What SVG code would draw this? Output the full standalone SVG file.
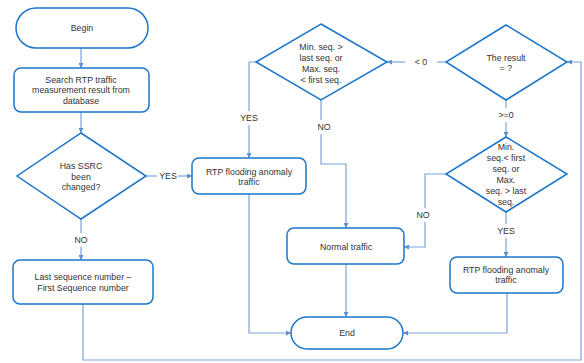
<svg xmlns="http://www.w3.org/2000/svg" width="584" height="363" viewBox="0 0 584 363">
<style>
.n{fill:#fff;stroke:#1b75c9;stroke-width:1.5}
.c{fill:none;stroke:#7aa3d8;stroke-width:1.2}
text{font-family:"Liberation Sans",Arial,sans-serif;font-size:8.8px;fill:#333;text-anchor:middle;dominant-baseline:central}
</style>
<defs>
<marker id="a" viewBox="0 0 6 6" refX="6" refY="3" markerWidth="5" markerHeight="5" orient="auto" markerUnits="userSpaceOnUse">
<path d="M0,0 L6,3 L0,6 z" fill="#5b8fd0"/>
</marker>
</defs>
<rect width="584" height="363" fill="#fff"/>
<g id="connectors">
<path class="c" d="M81,48 V68" marker-end="url(#a)"/>
<path class="c" d="M81,112 V133" marker-end="url(#a)"/>
<path class="c" d="M146,176 H157"/>
<path class="c" d="M178,176 H192" marker-end="url(#a)"/>
<path class="c" d="M81,219 V233"/>
<path class="c" d="M81,247 V260" marker-end="url(#a)"/>
<path class="c" d="M83,304 V360 H581 V62 H567" marker-end="url(#a)"/>
<path class="c" d="M446,62 H437"/>
<path class="c" d="M405,62 H387" marker-end="url(#a)"/>
<path class="c" d="M256,62 H249 V111"/>
<path class="c" d="M249,125 V158" marker-end="url(#a)"/>
<path class="c" d="M321,100 V120"/>
<path class="c" d="M321,134 V164 H346 V228" marker-end="url(#a)"/>
<path class="c" d="M506,100 V108"/>
<path class="c" d="M506,122 V137" marker-end="url(#a)"/>
<path class="c" d="M446,174 H425 V208"/>
<path class="c" d="M425,222 V247 H404" marker-end="url(#a)"/>
<path class="c" d="M506,212 V224"/>
<path class="c" d="M506,238 V257" marker-end="url(#a)"/>
<path class="c" d="M249,194 V333 H291" marker-end="url(#a)"/>
<path class="c" d="M346,264 V317" marker-end="url(#a)"/>
<path class="c" d="M507,293 V333 H403" marker-end="url(#a)"/>
<text x="168" y="176">YES</text>
<text x="81" y="240">NO</text>
<text x="421" y="62">&lt; 0</text>
<text x="249" y="118">YES</text>
<text x="324" y="127">NO</text>
<text x="506" y="115">&gt;=0</text>
<text x="423" y="215">NO</text>
<text x="506" y="231">YES</text>
</g>
<g id="begin">
<rect class="n" x="16" y="8" width="132" height="40" rx="20"/>
<text x="82" y="28">Begin</text>
</g>
<g id="search">
<rect class="n" x="14" y="68" width="135" height="44" rx="7"/>
<text x="81" y="80">Search RTP traffic</text>
<text x="81" y="90.4">measurement result from</text>
<text x="81" y="100.8">database</text>
</g>
<g id="ssrc">
<polygon class="n" points="81,133 146,176 81,219 17,176"/>
<text x="81" y="166">Has SSRC</text>
<text x="81" y="176.6">been</text>
<text x="81" y="187.2">changed?</text>
</g>
<g id="last">
<rect class="n" x="13" y="260" width="140" height="44" rx="7"/>
<text x="83" y="277">Last sequence number –</text>
<text x="83" y="288">First Sequence number</text>
</g>
<g id="result">
<polygon class="n" points="506,25 567,62 506,100 446,62"/>
<text x="506" y="57.5">The result</text>
<text x="506" y="68">= ?</text>
</g>
<g id="minmax1">
<polygon class="n" points="321,24 387,62 321,100 256,62"/>
<text x="321" y="47">Min. seq. &gt;</text>
<text x="321" y="58">last seq. or</text>
<text x="321" y="69">Max. seq.</text>
<text x="321" y="80">&lt; first seq.</text>
</g>
<g id="flood1">
<rect class="n" x="192" y="158" width="114" height="36" rx="7"/>
<text x="249" y="171.5">RTP flooding anomaly</text>
<text x="249" y="182">traffic</text>
</g>
<g id="minmax2">
<polygon class="n" points="506,137 567,174 506,212 446,174"/>
<text x="506" y="147">Min.</text>
<text x="506" y="158">seq.&lt; first</text>
<text x="506" y="169">seq. or</text>
<text x="506" y="180">Max.</text>
<text x="506" y="191">seq. &gt; last</text>
<text x="506" y="202">seq.</text>
</g>
<g id="normal">
<rect class="n" x="287" y="228" width="117" height="36" rx="7"/>
<text x="346" y="247">Normal traffic</text>
</g>
<g id="flood2">
<rect class="n" x="450" y="257" width="113" height="36" rx="7"/>
<text x="506" y="269.5">RTP flooding anomaly</text>
<text x="506" y="280">traffic</text>
</g>
<g id="end">
<rect class="n" x="291" y="317" width="112" height="32" rx="16"/>
<text x="347" y="333">End</text>
</g>
</svg>
